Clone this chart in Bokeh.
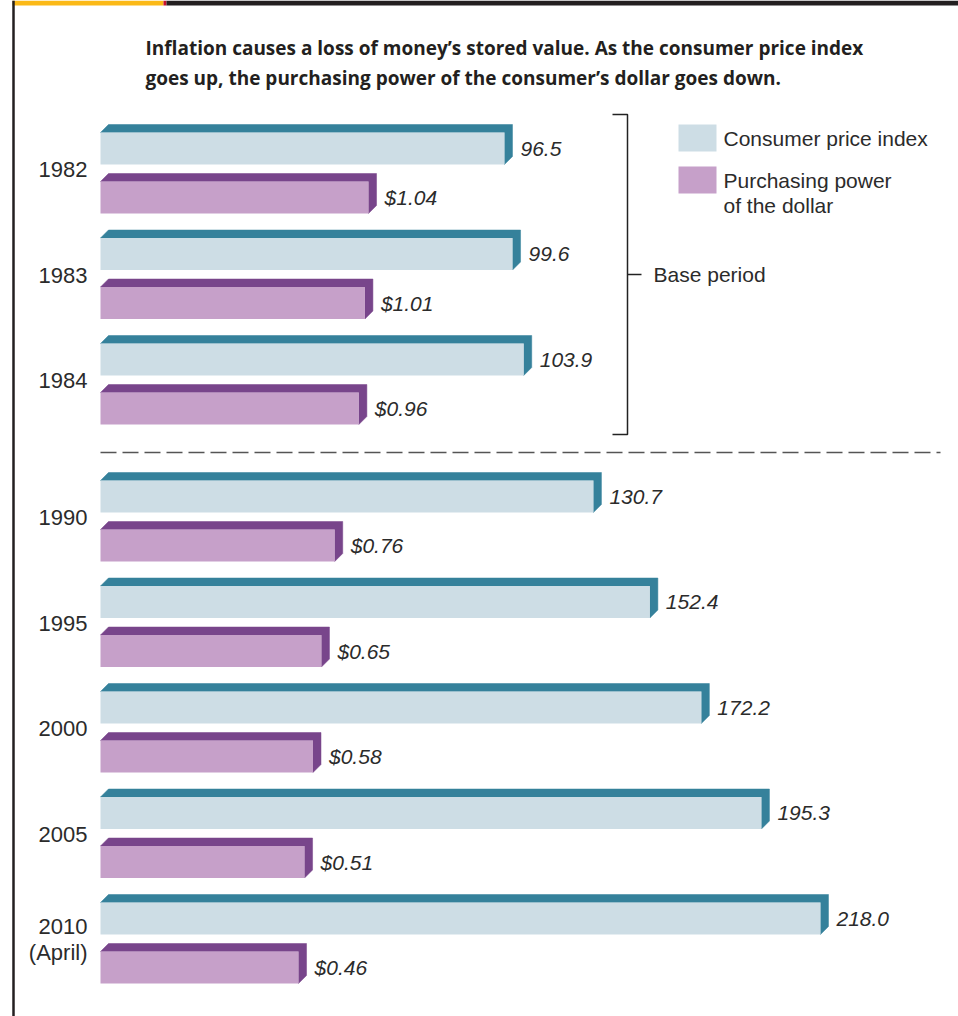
from bokeh.plotting import figure
from bokeh.models import Range1d, ColumnDataSource
from bokeh.core.properties import value
from bokeh.embed import file_html
from bokeh.resources import INLINE

# ---------------- data ----------------
years = ["1982", "1983", "1984", "1990", "1995", "2000", "2005", "2010"]
year_notes = ["", "", "", "", "", "", "", "(April)"]
cpi = [96.5, 99.6, 103.9, 130.7, 152.4, 172.2, 195.3, 218.0]
power = [1.04, 1.01, 0.96, 0.76, 0.65, 0.58, 0.51, 0.46]
cpi_labels = [f"{v:.1f}" for v in cpi]
power_labels = [f"${v:.2f}" for v in power]
base_period_years = ["1982", "1983", "1984"]
title_lines = [
    "Inflation causes a loss of money\u2019s stored value. As the consumer price index",
    "goes up, the purchasing power of the consumer\u2019s dollar goes down.",
]
legend_lines = [["Consumer price index"], ["Purchasing power", "of the dollar"]]
bracket_label = "Base period"

# ---------------- layout / style ----------------
W, H = 958, 1016
OX, OY = 0, 0
CPI_ZERO_PX, CPI_PX_PER = 253.0, 2.6008      # scale of the CPI bars
PP_ZERO_PX, PP_PX_PER = 242.5, 120.7         # scale of the purchasing-power bars
BAR_LEFT_PX = 100
DX, DY = 8, 8          # 3D offset in pixels
FRONT_H = 32
ROW_STEP, SECTION_GAP = 105.5, 31.5
FIRST_TOP = 132
PP_SHIFT = 49

CPI_FRONT, CPI_DARK = "#cddde5", "#35819b"
PP_FRONT, PP_DARK = "#c6a0c9", "#78458b"
TXT = "#2b2b2b"
FONT = "Liberation Sans"

def rng(zero, per):
    return Range1d((OX - zero) / per, (OX + W - zero) / per)

p = figure(width=W, height=H, x_range=rng(CPI_ZERO_PX, CPI_PX_PER),
           y_range=Range1d(OY + H, OY), output_backend="svg",
           toolbar_location=None, x_axis_type=None, y_axis_type=None,
           min_border=0, outline_line_color=None, background_fill_color="white")
p.extra_x_ranges = {"pp": rng(PP_ZERO_PX, PP_PX_PER), "px": Range1d(OX, OX + W)}
p.xgrid.visible = False
p.ygrid.visible = False

n_base = len(base_period_years)
tops = [FIRST_TOP + ROW_STEP * i + (SECTION_GAP if i >= n_base else 0) for i in range(len(years))]

def draw_series(vals, labels, zero, per, shift, front, dark, rname):
    left = (BAR_LEFT_PX - zero) / per
    dxu = DX / per
    ys_top = [t + shift for t in tops]
    src = ColumnDataSource(dict(
        yc=[t + FRONT_H / 2 for t in ys_top],
        left=[left] * len(vals), right=vals,
        xs=[[left, left + dxu, v + dxu, v + dxu, v, v] for v in vals],
        ys=[[t, t - DY, t - DY, t + FRONT_H - DY, t + FRONT_H, t] for t in ys_top],
        lx=[v + 16 / per for v in vals], text=labels,
    ))
    p.patches("xs", "ys", source=src, fill_color=dark, line_color=dark,
              line_width=0.5, x_range_name=rname)
    p.hbar(y="yc", left="left", right="right", height=FRONT_H, source=src,
           fill_color=front, line_color=None, x_range_name=rname)
    p.text(x="lx", y="yc", text="text", source=src, x_range_name=rname,
           text_font=value(FONT), text_font_style="italic", text_font_size="21px",
           text_color=TXT, text_baseline="middle", text_align="left")

draw_series(cpi, cpi_labels, CPI_ZERO_PX, CPI_PX_PER, 0, CPI_FRONT, CPI_DARK, "default")
draw_series(power, power_labels, PP_ZERO_PX, PP_PX_PER, PP_SHIFT, PP_FRONT, PP_DARK, "pp")

# year labels
yl_x, yl_y, yl_t = [], [], []
for t, yr, note in zip(tops, years, year_notes):
    if note:
        yl_x += [87, 87]; yl_y += [t + 24, t + 50]; yl_t += [yr, note]
    else:
        yl_x.append(87); yl_y.append(t + 37); yl_t.append(yr)
p.text(x=yl_x, y=yl_y, text=yl_t, x_range_name="px", text_font=value(FONT),
       text_font_size="22px", text_color=TXT, text_align="right", text_baseline="middle")

# dashed separator
sep_y = tops[n_base] - 28
p.line(x=[100, 940], y=[sep_y, sep_y], x_range_name="px", line_color="#555555",
       line_width=1.5, line_dash="16 6")

# bracket for base period
b_top = tops[0] - 18
b_bot = tops[n_base - 1] + PP_SHIFT + FRONT_H + 10
b_mid = (b_top + b_bot) / 2
p.multi_line(xs=[[612, 627, 627, 612], [627, 641]], ys=[[b_top, b_top, b_bot, b_bot], [b_mid, b_mid]],
             x_range_name="px", line_color="#222222", line_width=1.5)
p.text(x=[653], y=[b_mid], text=[bracket_label], x_range_name="px", text_font=value(FONT),
       text_font_size="21px", text_color=TXT, text_baseline="middle")

# legend
sw_tops = [124, 166]
p.quad(left=[678, 678], right=[716, 716], top=sw_tops, bottom=[s + 27 for s in sw_tops],
       fill_color=[CPI_FRONT, PP_FRONT], line_color=None, x_range_name="px")
lx, ly, lt = [], [], []
for s, lines in zip(sw_tops, legend_lines):
    for k, ln in enumerate(lines):
        lx.append(723); ly.append(s + 14 + 25 * k); lt.append(ln)
p.text(x=lx, y=ly, text=lt, x_range_name="px", text_font=value(FONT),
       text_font_size="21px", text_color=TXT, text_baseline="middle")

# title
p.text(x=[145, 145], y=[47, 77], text=title_lines, x_range_name="px",
       text_font=value("Open Sans"), text_font_style="bold", text_font_size="19px",
       text_color="#231f20", text_baseline="alphabetic")

# frame decorations (top colour bar and left rule)
p.quad(left=[12, 163, 166], right=[163, 166, OX + W], top=[OY, OY, OY], bottom=[OY + 5] * 3,
       fill_color=["#fbb917", "#c8102e", "#231f20"], line_color=None, x_range_name="px")
p.line(x=[13, 13], y=[OY, OY + H], x_range_name="px", line_color="#231f20", line_width=2.5)

open("out.html", "w").write(file_html(p, INLINE))
